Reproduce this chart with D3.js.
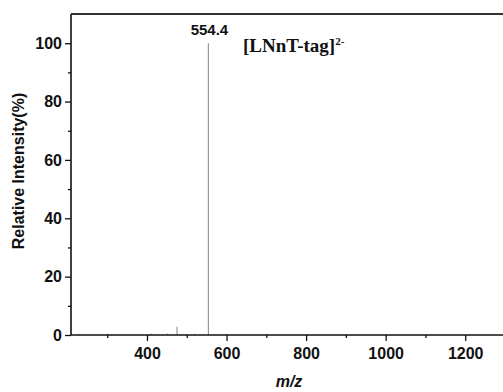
<!DOCTYPE html>
<html>
<head>
<meta charset="utf-8">
<script src="https://cdn.jsdelivr.net/npm/d3@7"></script>
<style>
  body { margin: 0; background: #fff; }
</style>
</head>
<body>
<div id="chart"></div>
<script>
// peaks (m/z, relative intensity %)
var mzValues = [230, 300, 360, 410, 452, 475.6, 520, 554.4, 600, 700, 850, 1000, 1150];
var intensityValues = [0.3, 0.4, 0.3, 0.4, 0.5, 2.8, 0.4, 100, 0.3, 0.2, 0.2, 0.2, 0.2];
var xMajorTicks = [400, 600, 800, 1000, 1200];
var xMinorTicks = [300, 500, 700, 900, 1100, 1300];
var yMajorTicks = [0, 20, 40, 60, 80, 100];
var yMinorTicks = [10, 30, 50, 70, 90];
var peakLabel = "554.4";

var sans = "'Liberation Sans', Arial, sans-serif";
var serif = "'Liberation Serif', 'Times New Roman', serif";

var svgWidth = 503, svgHeight = 392;
var margin = { top: 14, left: 71, bottom: 57 };
var plotRight = 505; // frame right edge sits just past the window
var height = svgHeight - margin.top - margin.bottom;

var svg = d3.select("#chart").append("svg")
  .attr("width", svgWidth)
  .attr("height", svgHeight)
  .style("font-family", sans);

var xScale = d3.scaleLinear().domain([209, 1300]).range([margin.left, plotRight]);
var yScale = d3.scaleLinear().domain([0, 110]).range([margin.top + height, margin.top]);

var g = svg.append("g");

// spectrum sticks
g.selectAll("line.peak")
  .data(mzValues)
  .enter().append("line")
  .attr("class", "peak")
  .attr("x1", d => xScale(d)).attr("x2", d => xScale(d))
  .attr("y1", yScale(0))
  .attr("y2", (d, i) => yScale(intensityValues[i]))
  .attr("stroke", "#999")
  .attr("stroke-width", 1.2);

// x axis
var xAxis = g.append("g")
  .attr("transform", `translate(0, ${yScale(0)})`)
  .call(d3.axisBottom(xScale).tickValues(xMajorTicks).tickSize(6).tickPadding(7).tickFormat(d3.format("d")));
xAxis.selectAll("text").style("font-family", sans).attr("font-size", 16).attr("font-weight", "bold").attr("fill", "#111");
g.append("g")
  .attr("transform", `translate(0, ${yScale(0)})`)
  .call(d3.axisBottom(xScale).tickValues(xMinorTicks).tickSize(3).tickFormat(""));

// y axis
var yAxis = g.append("g")
  .attr("transform", `translate(${margin.left}, 0)`)
  .call(d3.axisLeft(yScale).tickValues(yMajorTicks).tickSize(6).tickPadding(3));
yAxis.selectAll("text").style("font-family", sans).attr("font-size", 16).attr("font-weight", "bold").attr("fill", "#111");
g.append("g")
  .attr("transform", `translate(${margin.left}, 0)`)
  .call(d3.axisLeft(yScale).tickValues(yMinorTicks).tickSize(3).tickFormat(""));

g.selectAll(".domain").remove();
g.selectAll(".tick line").attr("stroke", "#111").attr("stroke-width", 1.3);

// frame
g.append("line")
  .attr("x1", margin.left).attr("x2", plotRight)
  .attr("y1", yScale(0)).attr("y2", yScale(0))
  .attr("stroke", "#111").attr("stroke-width", 1.6);
g.append("line")
  .attr("x1", margin.left).attr("x2", margin.left)
  .attr("y1", yScale(0)).attr("y2", yScale(110))
  .attr("stroke", "#111").attr("stroke-width", 1.6);
g.append("line")
  .attr("x1", margin.left).attr("x2", plotRight)
  .attr("y1", yScale(110)).attr("y2", yScale(110))
  .attr("stroke", "#333").attr("stroke-width", 2);

// peak label
g.append("text")
  .attr("x", xScale(554.4) + 1)
  .attr("y", yScale(100) - 8)
  .attr("text-anchor", "middle")
  .attr("font-size", 15)
  .attr("font-weight", "bold")
  .attr("fill", "#111")
  .text(peakLabel);

// ion annotation
var ion = g.append("text")
  .attr("x", 243)
  .attr("y", 52)
  .style("font-family", serif)
  .attr("font-size", 19)
  .attr("font-weight", "bold")
  .attr("fill", "#111");
ion.append("tspan").text("[LNnT-tag]");
ion.append("tspan").attr("dy", -7).attr("font-size", 11).text("2-");

// axis titles
svg.append("text")
  .attr("transform", `translate(24, 171) rotate(-90)`)
  .attr("text-anchor", "middle")
  .attr("font-size", 16)
  .attr("font-weight", "bold")
  .attr("fill", "#111")
  .text("Relative Intensity(%)");

svg.append("text")
  .attr("x", 289)
  .attr("y", 387)
  .attr("text-anchor", "middle")
  .attr("font-size", 16)
  .attr("font-weight", "bold")
  .attr("font-style", "italic")
  .attr("fill", "#111")
  .text("m/z");
</script>
</body>
</html>
